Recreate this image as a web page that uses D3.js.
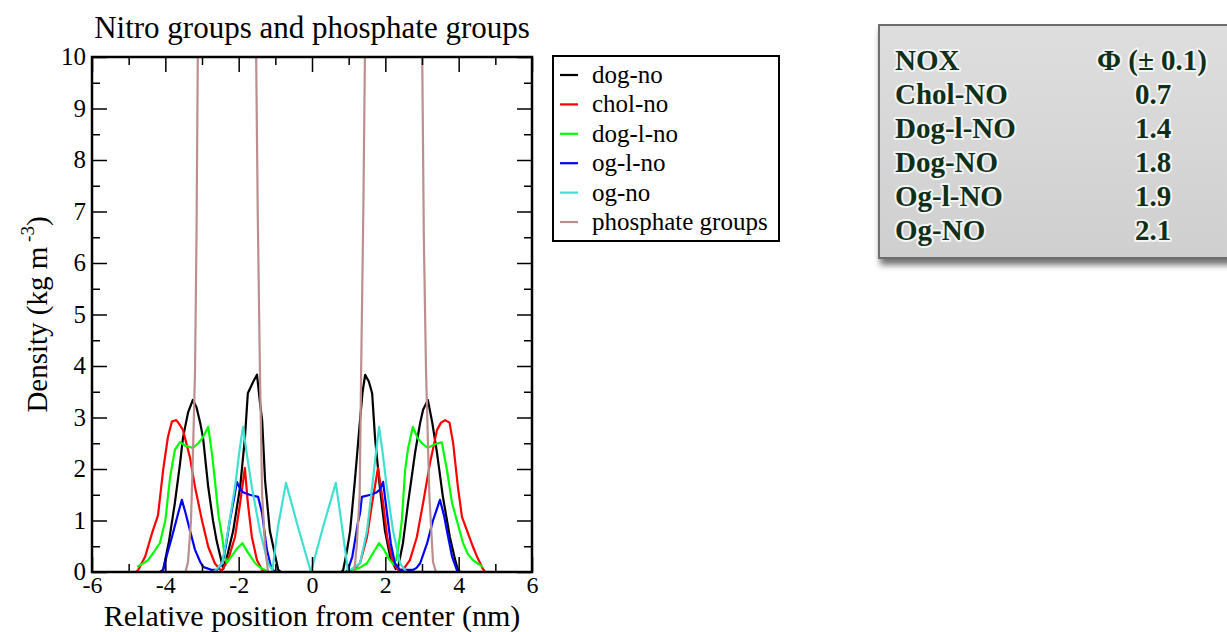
<!DOCTYPE html>
<html><head><meta charset="utf-8">
<script src="https://cdn.jsdelivr.net/npm/d3@7"></script>
<style>
html,body{margin:0;padding:0;background:#fff;}
svg text{font-family:"Liberation Serif","Times New Roman",serif;}
</style></head>
<body>
<svg id="c" width="1227" height="632"></svg>
<script>
// ---------- data ----------
const chartTitle = "Nitro groups and phosphate groups";
const xLabel = "Relative position from center (nm)";
const xTicks = [-6,-4,-2,0,2,4,6];
const yTicks = [0,1,2,3,4,5,6,7,8,9,10];
const seriesNames = ["dog-no","chol-no","dog-l-no","og-l-no","og-no","phosphate groups"];
const seriesColors = ["#000000","#ff0000","#00ff00","#0000ff","#40e0d0","#bc8f8f"];

const dogNo = [[-4.15,0],[-4.06,0.04],[-3.9,0.6],[-3.74,1.34],[-3.6,2.1],[-3.52,2.6],[-3.38,3.1],[-3.25,3.34],[-3.15,3.2],[-3.05,2.9],[-2.97,2.6],[-2.83,1.65],[-2.7,1.0],[-2.6,0.6],[-2.5,0.3],[-2.42,0.06],[-2.3,0.35],[-2.15,0.8],[-1.96,1.65],[-1.83,2.6],[-1.75,3.47],[-1.6,3.7],[-1.5,3.83],[-1.42,3.3],[-1.36,2.95],[-1.28,1.78],[-1.15,0.8],[-1.0,0.3],[-0.92,0.04],[-0.85,0],
  [0.8,0],[0.85,0.04],[0.95,0.4],[1.04,0.8],[1.17,1.78],[1.31,2.95],[1.38,3.5],[1.45,3.83],[1.55,3.7],[1.64,3.47],[1.72,2.6],[1.85,1.65],[1.99,0.8],[2.13,0.3],[2.28,0.06],[2.35,0.1],[2.48,0.56],[2.62,1.34],[2.81,2.31],[2.95,2.9],[3.03,3.15],[3.16,3.34],[3.28,2.9],[3.41,2.31],[3.57,1.46],[3.76,0.68],[3.9,0.25],[3.98,0.04],[4.05,0]];

const cholNo = [[-4.8,0],[-4.74,0.04],[-4.55,0.3],[-4.36,0.76],[-4.2,1.1],[-4.06,1.98],[-3.93,2.62],[-3.82,2.92],[-3.7,2.95],[-3.6,2.85],[-3.52,2.76],[-3.33,2.23],[-3.19,1.65],[-3.0,1.0],[-2.83,0.49],[-2.65,0.17],[-2.5,0.04],[-2.45,0.04],[-2.29,0.23],[-2.1,0.68],[-1.96,1.34],[-1.83,2.02],[-1.75,1.34],[-1.64,0.68],[-1.5,0.23],[-1.36,0.04],[-1.3,0],
  [1.05,0],[1.12,0.04],[1.31,0.17],[1.5,0.68],[1.64,1.34],[1.8,2.02],[1.94,1.34],[2.05,0.68],[2.21,0.17],[2.35,0.04],[2.48,0.04],[2.67,0.23],[2.86,0.68],[3.03,1.34],[3.22,2.12],[3.41,2.76],[3.52,2.9],[3.63,2.95],[3.75,2.9],[3.85,2.5],[3.98,1.65],[4.09,1.07],[4.39,0.49],[4.5,0.3],[4.66,0.06],[4.72,0]];

const dogLNo = [[-4.77,0.1],[-4.6,0.17],[-4.47,0.23],[-4.3,0.4],[-4.15,0.56],[-4.0,1.0],[-3.87,1.84],[-3.74,2.37],[-3.6,2.52],[-3.45,2.45],[-3.25,2.41],[-3.1,2.5],[-2.97,2.62],[-2.83,2.82],[-2.73,2.31],[-2.65,1.8],[-2.55,1.1],[-2.45,0.68],[-2.38,0.3],[-2.32,0.18],[-2.2,0.3],[-2.05,0.45],[-1.9,0.56],[-1.75,0.38],[-1.55,0.17],[-1.4,0.08],[-1.28,0.04],[-1.2,0],
  [1.1,0],[1.12,0.04],[1.3,0.08],[1.5,0.17],[1.65,0.35],[1.83,0.56],[1.95,0.45],[2.1,0.25],[2.22,0.15],[2.3,0.25],[2.38,0.6],[2.45,1.0],[2.54,1.98],[2.62,2.4],[2.75,2.82],[2.88,2.6],[3.0,2.5],[3.16,2.41],[3.35,2.48],[3.54,2.52],[3.68,1.98],[3.82,1.34],[3.95,1.0],[4.12,0.56],[4.25,0.35],[4.39,0.23],[4.55,0.15],[4.66,0.1]];

const ogLNo = [[-4.12,0],[-4.06,0.04],[-3.95,0.35],[-3.82,0.68],[-3.65,1.14],[-3.55,1.4],[-3.45,1.15],[-3.38,0.95],[-3.19,0.43],[-3.05,0.2],[-2.97,0.1],[-2.73,0.04],[-2.6,0.04],[-2.45,0.17],[-2.35,0.5],[-2.24,1.0],[-2.12,1.45],[-2.05,1.75],[-1.95,1.6],[-1.88,1.55],[-1.7,1.5],[-1.47,1.46],[-1.36,1.14],[-1.3,0.8],[-1.23,0.43],[-1.12,0.1],[-1.06,0.04],[-1.0,0],
  [0.92,0],[0.98,0.04],[1.1,0.3],[1.17,0.6],[1.25,0.95],[1.31,1.14],[1.36,1.46],[1.6,1.5],[1.77,1.55],[1.85,1.6],[1.94,1.75],[2.0,1.4],[2.07,1.0],[2.15,0.55],[2.26,0.17],[2.4,0.04],[2.75,0.04],[2.85,0.08],[2.95,0.17],[3.14,0.56],[3.3,1.0],[3.49,1.4],[3.6,1.1],[3.68,0.8],[3.82,0.3],[3.95,0.04],[4.0,0]];

const ogNo = [[-2.7,0],[-2.65,0.02],[-2.45,0.17],[-2.29,0.8],[-2.1,1.65],[-1.97,2.4],[-1.88,2.82],[-1.78,2.3],[-1.64,1.65],[-1.42,0.8],[-1.2,0.17],[-1.08,0.03],[-0.93,0.87],[-0.71,1.73],[-0.38,0.87],[-0.03,0],[0.3,0.87],[0.65,1.73],[0.82,0.87],[0.98,0.03],[1.05,0.04],[1.31,0.17],[1.5,0.8],[1.64,1.65],[1.75,2.35],[1.83,2.82],[1.93,2.3],[2.04,1.65],[2.21,0.8],[2.4,0.17],[2.55,0.02],[2.6,0]];

const phosphate = [[-3.45,0],[-3.38,0.2],[-3.3,1.0],[-3.25,2.2],[-3.19,3.9],[-3.15,6.5],[-3.11,10.5],[-3.05,60],[-2.5,300],[-2.0,300],[-1.6,60],[-1.53,10.5],[-1.48,7],[-1.42,3.9],[-1.36,1.5],[-1.28,0.5],[-1.2,0],
  [1.15,0],[1.22,0.5],[1.3,1.5],[1.34,3.9],[1.4,7],[1.45,10.5],[1.5,60],[2.0,300],[2.5,300],[2.95,60],[3.0,10.5],[3.05,6.5],[3.11,3.9],[3.2,1.5],[3.3,0.2],[3.38,0]];

const tableHeader = ["NOX","\u03A6 (\u00B1 0.1)"];
const tableNames = ["Chol-NO","Dog-l-NO","Dog-NO","Og-l-NO","Og-NO"];
const tablePhi = ["0.7","1.4","1.8","1.9","2.1"];

// ---------- drawing ----------
const svg = d3.select("#c");
const M = {l:92, r:532, t:57, b:572};
const x = d3.scaleLinear().domain([-6,6]).range([M.l, M.r]);
const y = d3.scaleLinear().domain([0,10]).range([M.b, M.t]);

const defs = svg.append("defs");
defs.append("clipPath").attr("id","plotclip")
  .append("rect").attr("x",M.l).attr("y",M.t).attr("width",M.r-M.l).attr("height",M.b-M.t);

const allSeries = [dogNo, cholNo, dogLNo, ogLNo, ogNo, phosphate];
const line = d3.line().x(d=>x(d[0])).y(d=>y(d[1]));
const lg = svg.append("g").attr("clip-path","url(#plotclip)");
allSeries.forEach((s,i)=>{
  lg.append("path").datum(s).attr("d",line).attr("fill","none")
    .attr("stroke",seriesColors[i]).attr("stroke-width",2.2).attr("stroke-linejoin","round");
});

// axes (inward ticks, mirrored)
const fs = 25;
const fmt = d => String(d);
const axB = d3.axisBottom(x).tickValues(xTicks).tickSizeInner(-15).tickSizeOuter(0).tickPadding(4).tickFormat(fmt);
const axBm = d3.axisBottom(x).tickValues(d3.range(-5,6,2)).tickSizeInner(-8).tickSizeOuter(0).tickFormat("");
const axT = d3.axisTop(x).tickValues(xTicks).tickSizeInner(-15).tickSizeOuter(0).tickFormat("");
const axTm = d3.axisTop(x).tickValues(d3.range(-5,6,2)).tickSizeInner(-8).tickSizeOuter(0).tickFormat("");
const axL = d3.axisLeft(y).tickValues(yTicks).tickSizeInner(-15).tickSizeOuter(0).tickPadding(6).tickFormat(fmt);
const axLm = d3.axisLeft(y).tickValues(d3.range(0.5,10,1)).tickSizeInner(-8).tickSizeOuter(0).tickFormat("");
const axR = d3.axisRight(y).tickValues(yTicks).tickSizeInner(-15).tickSizeOuter(0).tickFormat("");
const axRm = d3.axisRight(y).tickValues(d3.range(0.5,10,1)).tickSizeInner(-8).tickSizeOuter(0).tickFormat("");

function put(ax, tr){
  const g = svg.append("g").attr("transform",tr).call(ax);
  g.select(".domain").remove();
  g.selectAll("line").attr("stroke","#000").attr("stroke-width",1.5);
  g.selectAll("text").attr("font-size",fs).attr("fill","#000").attr("font-family","Liberation Serif");
  return g;
}
const gb = put(axB,`translate(0,${M.b})`);
gb.selectAll("text").attr("font-size",24);
put(axBm,`translate(0,${M.b})`);
put(axT,`translate(0,${M.t})`);
put(axTm,`translate(0,${M.t})`);
const gl = put(axL,`translate(${M.l},0)`);
put(axLm,`translate(${M.l},0)`);
put(axR,`translate(${M.r},0)`);
put(axRm,`translate(${M.r},0)`);
gl.selectAll("text").attr("dy","0.3em");

svg.append("rect").attr("x",M.l).attr("y",M.t).attr("width",M.r-M.l).attr("height",M.b-M.t)
  .attr("fill","none").attr("stroke","#000").attr("stroke-width",2.5);

// title & labels
svg.append("text").attr("x",(M.l+M.r)/2).attr("y",38).attr("text-anchor","middle")
  .attr("font-size",31).text(chartTitle);
svg.append("text").attr("x",(M.l+M.r)/2).attr("y",626).attr("text-anchor","middle")
  .attr("font-size",30).text(xLabel);
const yl = svg.append("text").attr("transform",`translate(47,${(M.t+M.b)/2}) rotate(-90)`)
  .attr("text-anchor","middle").attr("font-size",29);
yl.append("tspan").text("Density (kg m");
yl.append("tspan").attr("font-size",19).attr("dy",-13).text(" -3");
yl.append("tspan").attr("dy",13).text(")");

// legend
const leg = svg.append("g");
leg.append("rect").attr("x",553).attr("y",56).attr("width",226).attr("height",185)
  .attr("fill","#fff").attr("stroke","#000").attr("stroke-width",2);
seriesNames.forEach((n,i)=>{
  const yy = 75 + i*29.4;
  leg.append("line").attr("x1",560).attr("x2",578).attr("y1",yy).attr("y2",yy)
    .attr("stroke",seriesColors[i]).attr("stroke-width",2.2);
  leg.append("text").attr("x",592).attr("y",yy).attr("dy","0.32em").attr("font-size",25).text(n);
});

// table box
const f = defs.append("filter").attr("id","sh").attr("x","-10%").attr("y","-10%").attr("width","130%").attr("height","140%");
f.append("feDropShadow").attr("dx",2).attr("dy",6).attr("stdDeviation",3).attr("flood-color","#000").attr("flood-opacity",0.55);
const gr = defs.append("linearGradient").attr("id","tg").attr("x1",0).attr("y1",0).attr("x2",0).attr("y2",1);
gr.append("stop").attr("offset","0").attr("stop-color","#dedede");
gr.append("stop").attr("offset","1").attr("stop-color","#cfcfcf");
svg.append("rect").attr("x",879).attr("y",25).attr("width",360).attr("height",233)
  .attr("fill","url(#tg)").attr("stroke","#6e6e6e").attr("stroke-width",2).attr("filter","url(#sh)");
const tcol = "#0f2f18";
function ttext(xx, yy, t, anchor){
  svg.append("text").attr("x",xx).attr("y",yy).attr("text-anchor",anchor||"start")
    .attr("font-size",29).attr("font-weight","bold")
    .attr("fill",tcol).attr("stroke","#f4f4f4").attr("stroke-width",4)
    .attr("stroke-linejoin","round").attr("paint-order","stroke").text(t);
}
ttext(895, 70, tableHeader[0]);
ttext(1097, 70, tableHeader[1]);
tableNames.forEach((n,i)=>{
  const yy = 104 + i*34;
  ttext(895, yy, n);
  ttext(1153, yy, tablePhi[i], "middle");
});
</script>
</body></html>
